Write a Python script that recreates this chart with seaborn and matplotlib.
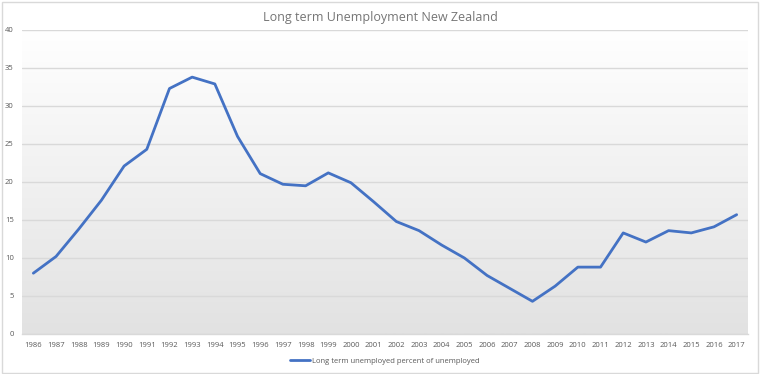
import numpy as np
import pandas as pd
import matplotlib
matplotlib.use("Agg")
import matplotlib.pyplot as plt
import seaborn as sns

years = list(range(1986, 2018))
values = [8.0, 10.2, 13.8, 17.6, 22.1, 24.3, 32.3, 33.8, 32.9, 26.0, 21.1, 19.7,
          19.5, 21.2, 19.9, 17.4, 14.8, 13.6, 11.7, 10.0, 7.7, 6.0, 4.3, 6.3,
          8.8, 8.8, 13.3, 12.1, 13.6, 13.3, 14.1, 15.7]
series_name = "Long term unemployed percent of unemployed"
title = "Long term Unemployment New Zealand"
yticks = [0, 5, 10, 15, 20, 25, 30, 35, 40]

sns.set_theme(style="white")
plt.rcParams['font.family'] = ['Open Sans', 'DejaVu Sans']

df = pd.DataFrame({"Year": years, series_name: values})

fig = plt.figure(figsize=(7.6, 3.74), dpi=100)
ax = fig.add_axes([22/760, 40/374, 726/760, 304/374])

# gradient background (white at top, light grey at bottom)
grad = np.linspace(0.0, 1.0, 256).reshape(-1, 1)
cmap = matplotlib.colors.LinearSegmentedColormap.from_list("g", ["#e2e2e2", "#ffffff"])
ax.imshow(grad, extent=[0, 1, 0, 1], transform=ax.transAxes, cmap=cmap,
          aspect="auto", zorder=0, vmin=0, vmax=1, origin="lower")

sns.lineplot(data=df, x="Year", y=series_name, ax=ax, color="#4472C4",
             linewidth=2.0, label=series_name, zorder=3)

ax.set_xlim(years[0] - 0.5, years[-1] + 0.5)
ax.set_ylim(0, 40)
ax.set_yticks(yticks)
ax.set_yticklabels([str(v) for v in yticks], fontsize=5.5, color="#595959")
ax.set_xticks(years)
ax.set_xticklabels([str(y) for y in years], fontsize=5.5, color="#595959")
ax.tick_params(axis="x", length=0, pad=6)
ax.tick_params(axis="y", length=0, pad=6)
ax.yaxis.grid(True, color="#d9d9d9", linewidth=1.0, zorder=1)
ax.set_axisbelow(False)
for s in ["top", "right", "left"]:
    ax.spines[s].set_visible(False)
ax.spines["bottom"].set_color("#d9d9d9")
ax.spines["bottom"].set_linewidth(1.0)
ax.set_xlabel("")
ax.set_ylabel("")

ax.legend(loc="center", bbox_to_anchor=(0.5, -0.09), frameon=False,
          fontsize=5.5, handlelength=2.5, handletextpad=0.3,
          labelcolor="#595959")

fig.text(0.5, 1 - 17/374, title, ha="center", va="center", fontsize=9,
         color="#757575")

# outer frame
fig.patches.append(matplotlib.patches.Rectangle((0.002, 0.004), 0.995, 0.99,
                   transform=fig.transFigure, fill=False, edgecolor="#d9d9d9",
                   linewidth=1.0))

fig.savefig("out.png", dpi=100)
